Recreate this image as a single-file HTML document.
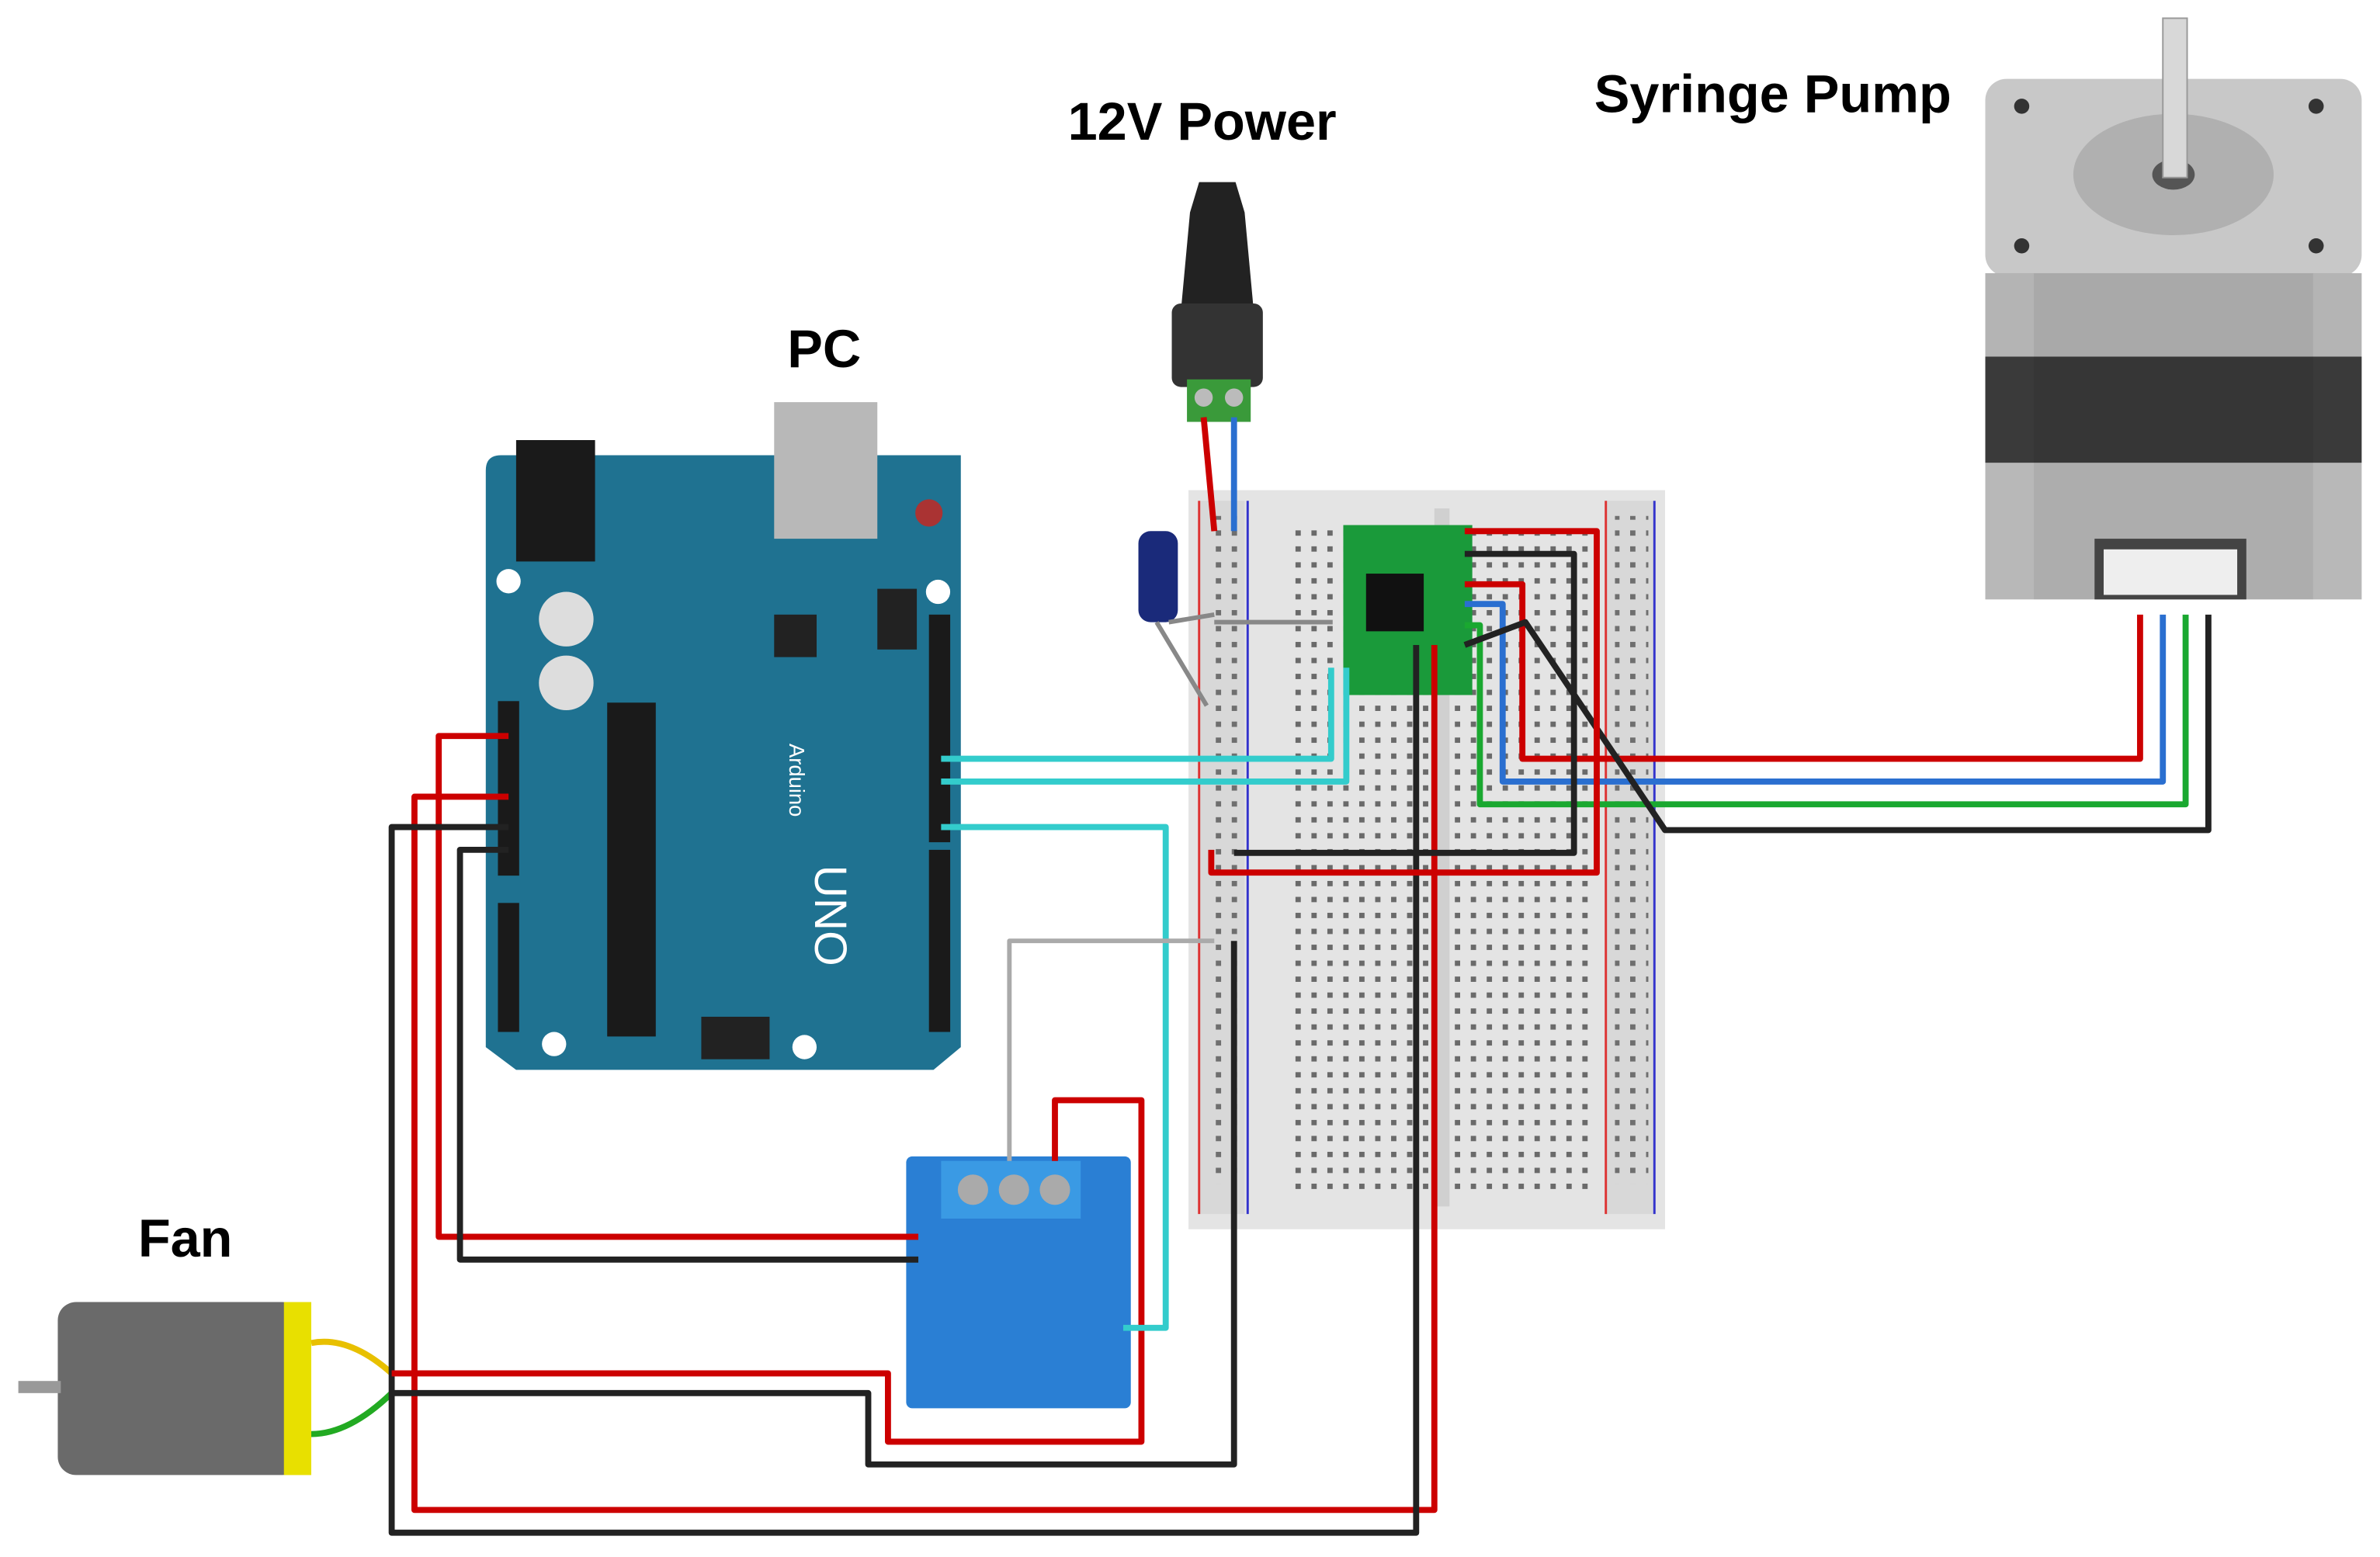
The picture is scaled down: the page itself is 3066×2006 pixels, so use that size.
<!DOCTYPE html>
<html><head><meta charset="utf-8"><style>html,body{margin:0;padding:0;background:#fff}svg{display:block}</style></head>
<body>
<svg width="3066" height="2006" viewBox="0 0 1568 1026" xmlns="http://www.w3.org/2000/svg" font-family="Liberation Sans, sans-serif">
<defs>
<pattern id="holes" width="10.5" height="10.5" patternUnits="userSpaceOnUse"><rect x="3" y="3" width="3.5" height="3.5" fill="#555"/></pattern>
</defs>
<rect width="1568" height="1026" fill="#fff"/>
<g font-weight="bold" font-size="35" fill="#000" text-anchor="middle">
<text x="792" y="92">12V Power</text>
<text x="1168" y="74">Syringe Pump</text>
<text x="543" y="242">PC</text>
<text x="122" y="828">Fan</text>
</g>
<!-- Breadboard -->
<rect x="783" y="323" width="314" height="487" fill="#e4e4e4"/>
<rect x="790" y="330" width="30" height="470" fill="#d8d8d8"/>
<rect x="1058" y="330" width="32" height="470" fill="#d8d8d8"/>
<line x1="790" y1="330" x2="790" y2="800" stroke="#d33" stroke-width="1.5"/>
<line x1="822" y1="330" x2="822" y2="800" stroke="#33c" stroke-width="1.5"/>
<line x1="1058" y1="330" x2="1058" y2="800" stroke="#d33" stroke-width="1.5"/>
<line x1="1090" y1="330" x2="1090" y2="800" stroke="#33c" stroke-width="1.5"/>
<rect x="795" y="340" width="22" height="440" fill="url(#holes)" opacity=".8"/>
<rect x="1064" y="340" width="22" height="440" fill="url(#holes)" opacity=".8"/>
<rect x="852" y="345" width="90" height="440" fill="url(#holes)" opacity=".85"/>
<rect x="958" y="345" width="90" height="440" fill="url(#holes)" opacity=".85"/>
<rect x="945" y="335" width="10" height="460" fill="#d0d0d0"/>
<!-- Power jack -->
<path d="M790 120 L814 120 L820 140 L826 205 L778 205 L784 140 Z" fill="#222"/>
<rect x="772" y="200" width="60" height="55" rx="6" fill="#333"/>
<rect x="782" y="250" width="42" height="28" fill="#3a9a3a"/>
<circle cx="793" cy="262" r="6" fill="#bbb"/><circle cx="813" cy="262" r="6" fill="#bbb"/>
<!-- Capacitor -->
<rect x="750" y="350" width="26" height="60" rx="8" fill="#1a2a7a"/>
<path d="M762 410 L795 465 M770 410 L800 405 M800 410 L878 410" stroke="#888" stroke-width="3" fill="none"/>
<!-- Driver -->
<rect x="885" y="346" width="85" height="112" fill="#1a9a3a"/>
<rect x="900" y="378" width="38" height="38" fill="#111"/>
<!-- Arduino -->
<path d="M320 310 Q320 300 330 300 L633 300 L633 690 L615 705 L340 705 L320 690 Z" fill="#1f7291"/>
<rect x="340" y="290" width="52" height="80" fill="#1a1a1a"/>
<rect x="510" y="265" width="68" height="90" fill="#b8b8b8"/>
<rect x="400" y="463" width="32" height="220" fill="#1a1a1a"/>
<circle cx="373" cy="408" r="18" fill="#ddd"/><circle cx="373" cy="450" r="18" fill="#ddd"/>
<rect x="328" y="462" width="14" height="115" fill="#1a1a1a"/>
<rect x="328" y="595" width="14" height="85" fill="#1a1a1a"/>
<rect x="612" y="405" width="14" height="150" fill="#1a1a1a"/>
<rect x="612" y="560" width="14" height="120" fill="#1a1a1a"/>
<rect x="510" y="405" width="28" height="28" fill="#222"/>
<rect x="578" y="388" width="26" height="40" fill="#222"/>
<rect x="462" y="670" width="45" height="28" fill="#222"/>
<circle cx="612" cy="338" r="9" fill="#a33"/>
<circle cx="335" cy="383" r="8" fill="#fff"/><circle cx="618" cy="390" r="8" fill="#fff"/>
<circle cx="365" cy="688" r="8" fill="#fff"/><circle cx="530" cy="690" r="8" fill="#fff"/>
<text x="0" y="0" transform="translate(520,490) rotate(90)" font-size="14" fill="#fff">Arduino</text>
<text x="0" y="0" transform="translate(537,570) rotate(90)" font-size="30" fill="#fff">UNO</text>
<!-- Motor -->
<rect x="1308" y="52" width="248" height="130" rx="14" fill="#c8c8c8"/>
<ellipse cx="1432" cy="115" rx="66" ry="40" fill="#b0b0b0"/>
<ellipse cx="1432" cy="115" rx="14" ry="10" fill="#555"/>
<rect x="1425" y="12" width="16" height="105" fill="#d8d8d8" stroke="#999"/>
<circle cx="1332" cy="70" r="5" fill="#333"/><circle cx="1526" cy="70" r="5" fill="#333"/>
<circle cx="1332" cy="162" r="5" fill="#333"/><circle cx="1526" cy="162" r="5" fill="#333"/>
<rect x="1308" y="180" width="248" height="55" fill="#b4b4b4"/>
<rect x="1308" y="235" width="248" height="70" fill="#3a3a3a"/>
<rect x="1308" y="305" width="248" height="90" fill="#b8b8b8"/>
<rect x="1340" y="180" width="184" height="215" fill="#000" opacity=".06"/>
<rect x="1380" y="355" width="100" height="40" fill="#444"/>
<rect x="1386" y="362" width="88" height="30" fill="#eee"/>
<!-- Fan -->
<rect x="38" y="858" width="160" height="114" rx="12" fill="#6a6a6a"/>
<rect x="12" y="910" width="28" height="8" fill="#999"/>
<rect x="187" y="858" width="18" height="114" fill="#e8e000"/>
<path d="M205 885 Q230 880 258 905" stroke="#e8c000" stroke-width="4" fill="none"/>
<path d="M205 945 Q230 945 258 918" stroke="#2a2" stroke-width="4" fill="none"/>
<!-- Relay -->
<rect x="597" y="762" width="148" height="166" rx="4" fill="#2a7fd4"/>
<rect x="620" y="765" width="92" height="38" fill="#3a9ae4"/>
<circle cx="641" cy="784" r="10" fill="#aaa"/><circle cx="668" cy="784" r="10" fill="#aaa"/><circle cx="695" cy="784" r="10" fill="#aaa"/>
<!-- Wires -->
<g fill="none" stroke-width="4" stroke-linejoin="round">
<path d="M335 485 H289 V815 H605" stroke="#c00"/>
<path d="M335 525 H273 V995 H945 V425" stroke="#c00"/>
<path d="M335 545 H258 V1010 H933 V425" stroke="#222"/>
<path d="M335 560 H303 V830 H605" stroke="#222"/>
<path d="M258 905 H585 V950 H752 V725 H695 V765" stroke="#c00"/>
<path d="M258 918 H572 V965 H813 V620" stroke="#222"/>
<path d="M620 500 H877 V440" stroke="#3cc"/>
<path d="M620 515 H887 V440" stroke="#3cc"/>
<path d="M620 545 H768 V875 H740" stroke="#3cc"/>
<path d="M665 765 V620 H800" stroke="#aaa" stroke-width="3"/>
<path d="M793 275 L800 350" stroke="#c00"/>
<path d="M813 275 V350" stroke="#2a6fd0"/>
<path d="M965 385 H1003 V500 H1410 V405" stroke="#c00"/>
<path d="M965 398 H990 V515 H1425 V405" stroke="#2a6fd0"/>
<path d="M965 412 H975 V530 H1440 V405" stroke="#1aa830"/>
<path d="M965 425 L1005 410 L1097 547 H1455 V405" stroke="#222"/>
<path d="M965 350 H1052 V575 H798 V560" stroke="#c00"/>
<path d="M965 365 H1037 V562 H813" stroke="#222"/>
</g>
</svg>
</body></html>
